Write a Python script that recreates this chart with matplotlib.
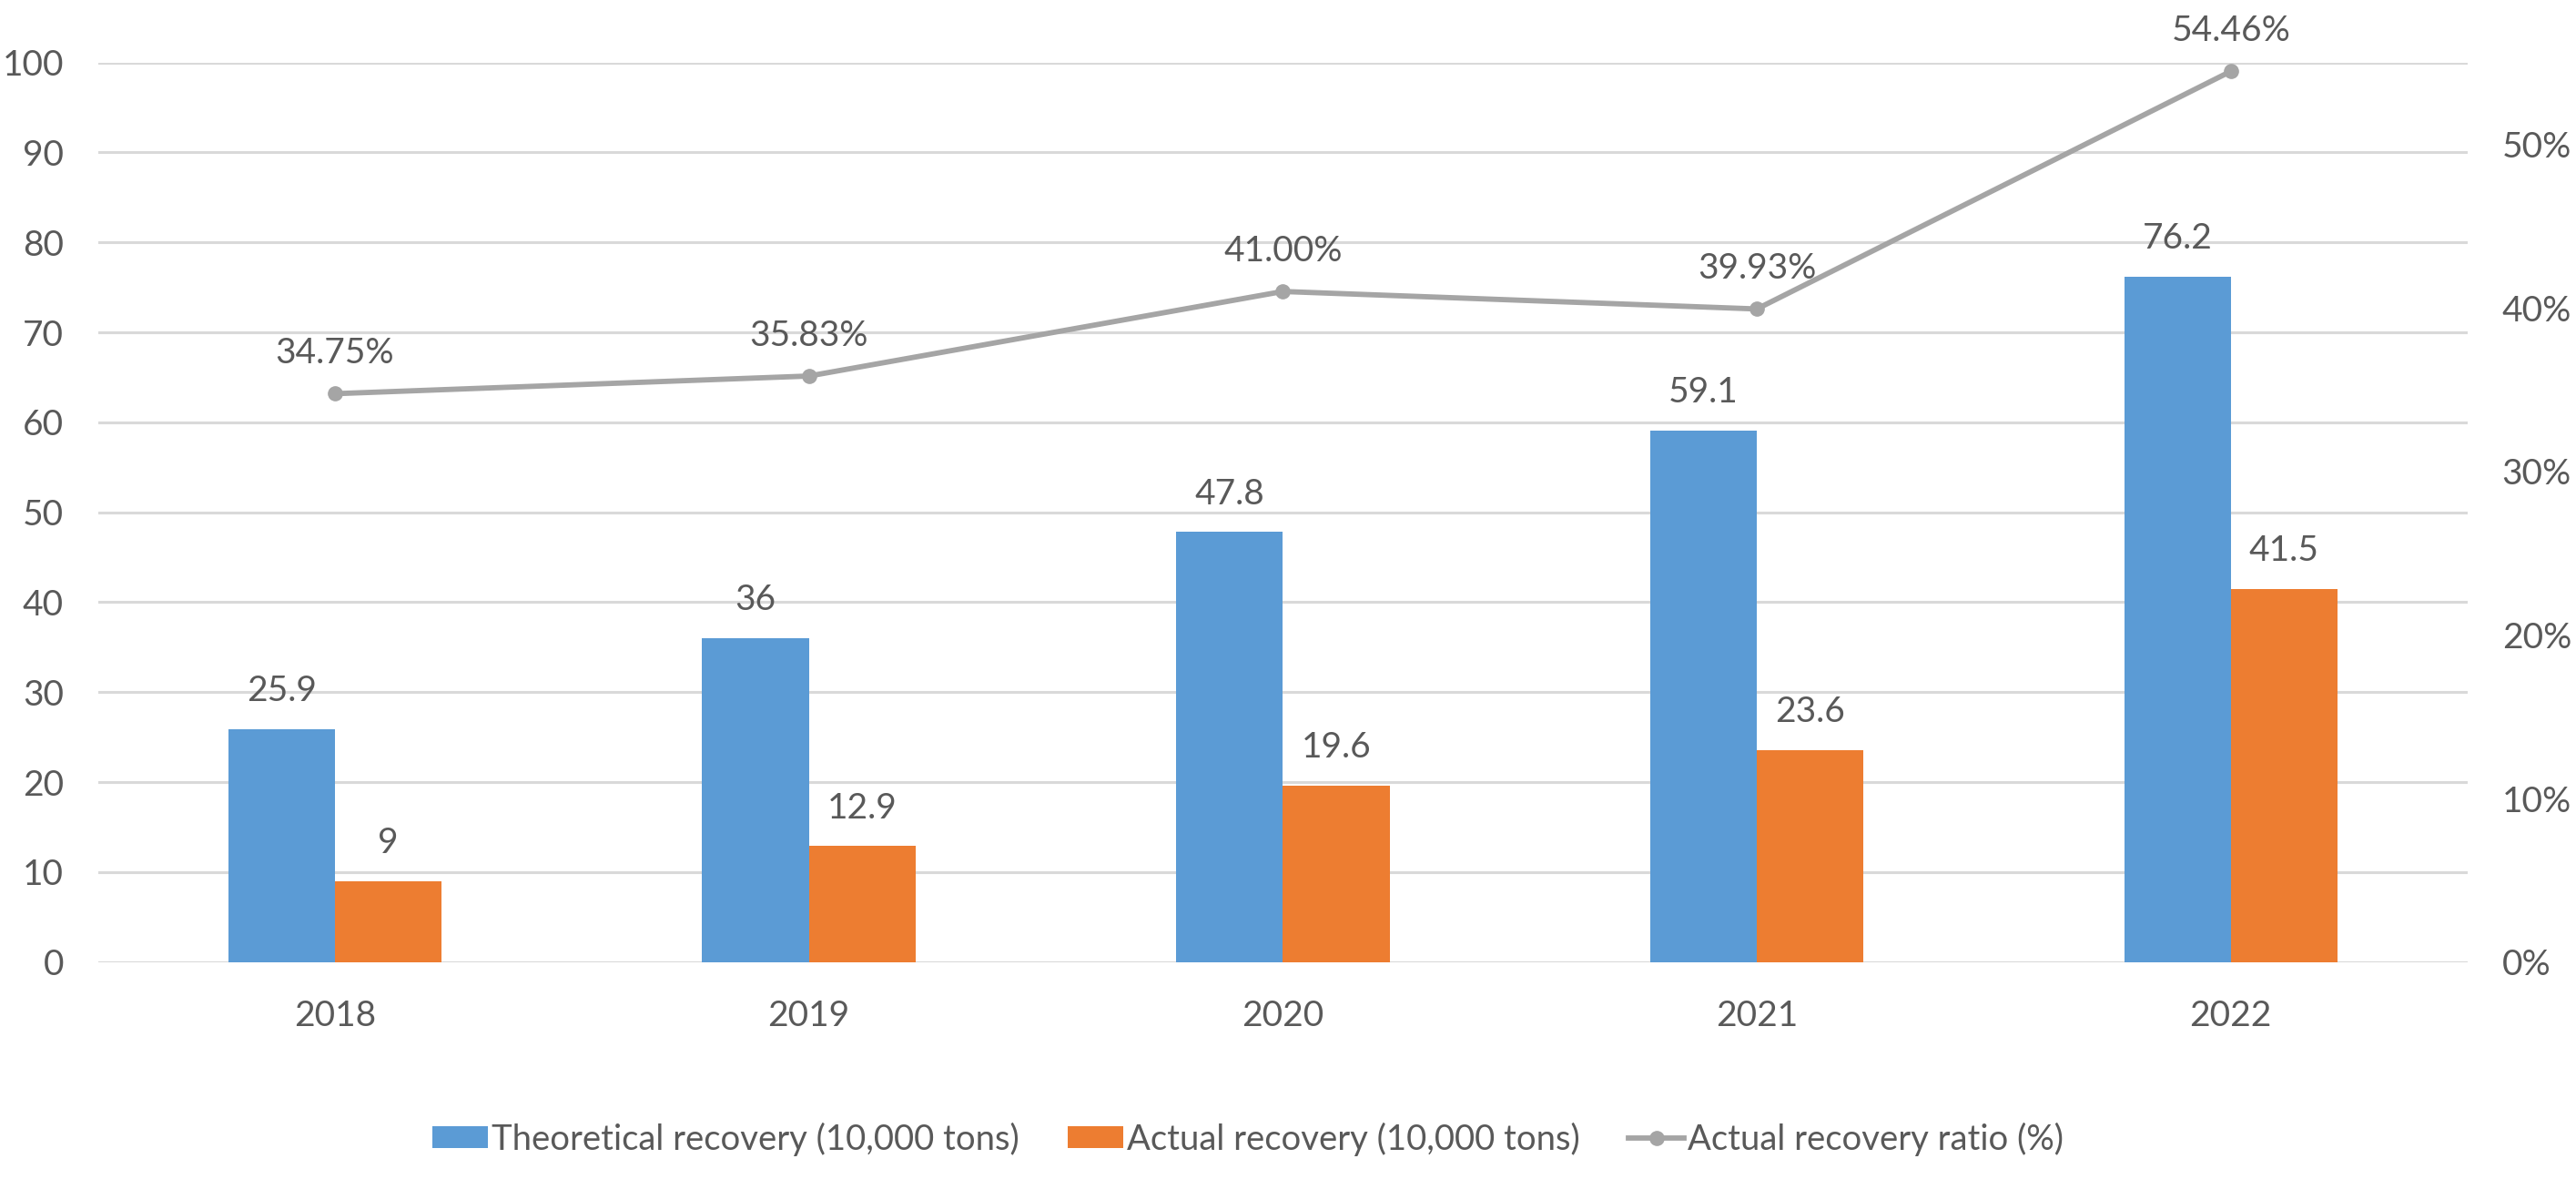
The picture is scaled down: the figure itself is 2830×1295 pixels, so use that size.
import matplotlib.pyplot as plt
import numpy as np

plt.rcParams['font.family'] = ['Lato', 'DejaVu Sans']

years = ['2018', '2019', '2020', '2021', '2022']
theoretical = [25.9, 36, 47.8, 59.1, 76.2]
actual = [9, 12.9, 19.6, 23.6, 41.5]
ratio = [34.75, 35.83, 41.00, 39.93, 54.46]

blue = '#5B9BD5'
orange = '#ED7D31'
gray = '#A5A5A5'
txt = '#595959'
fs = 28

fig = plt.figure(figsize=(28.3, 12.95), dpi=100)
ax = fig.add_axes([0.038, 0.184, 0.920, 0.763])
ax2 = ax.twinx()

x = np.arange(len(years))
w = 0.225
b1 = ax.bar(x - w / 2, theoretical, w, color=blue, label='Theoretical recovery (10,000 tons)', zorder=3)
b2 = ax.bar(x + w / 2, actual, w, color=orange, label='Actual recovery (10,000 tons)', zorder=3)

for bars, vals in ((b1, theoretical), (b2, actual)):
    for r, v in zip(bars, vals):
        ax.annotate(f'{v:g}', (r.get_x() + r.get_width() / 2, v), xytext=(0, 30),
                    textcoords='offset points', ha='center', va='center', fontsize=fs, color=txt)

ln, = ax2.plot(x, np.array(ratio) / 100, color=gray, lw=4.2, marker='o', ms=11,
               label='Actual recovery ratio (%)', zorder=4)
for xi, v in zip(x, ratio):
    ax2.annotate(f'{v:.2f}%', (xi, v / 100), xytext=(0, 32), textcoords='offset points',
                 ha='center', va='center', fontsize=fs, color=txt)

ax.set_xlim(-0.5, len(years) - 0.5)
ax.set_ylim(0, 100)
ax.set_yticks(range(0, 101, 10))
ax2.set_ylim(0, 0.55)
ax2.set_yticks([0, 0.1, 0.2, 0.3, 0.4, 0.5])
ax2.set_yticklabels(['0%', '10%', '20%', '30%', '40%', '50%'])
ax.set_xticks(x)
ax.set_xticklabels(years)

ax.grid(axis='y', color='#D9D9D9', lw=2.2, zorder=0)
for a in (ax, ax2):
    for s in a.spines.values():
        s.set_visible(False)
ax.tick_params(axis='y', length=0, pad=27, labelsize=fs, labelcolor=txt)
ax.tick_params(axis='x', length=0, pad=30, labelsize=fs, labelcolor=txt)
ax2.tick_params(axis='y', length=0, pad=27, labelsize=fs, labelcolor=txt)

handles = [b1, b2, ln]
leg = fig.legend(handles, [h.get_label() for h in handles], loc='center', bbox_to_anchor=(0.4845, 0.034),
                 ncol=3, frameon=False, fontsize=27.5, handlelength=1.6, handleheight=0.6,
                 handletextpad=0.1, columnspacing=1.4)
for t in leg.get_texts():
    t.set_color(txt)

fig.savefig('out.png', dpi=100)
